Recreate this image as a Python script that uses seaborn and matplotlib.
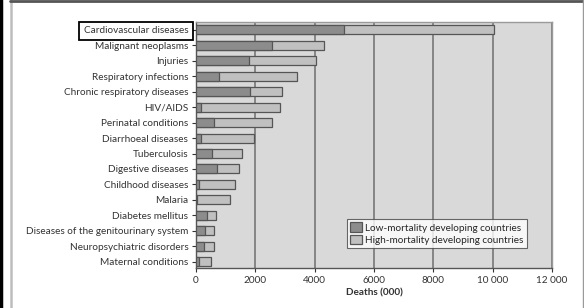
import matplotlib
matplotlib.use("Agg")
import matplotlib.pyplot as plt
from matplotlib.lines import Line2D
import seaborn as sns
import pandas as pd

# causes of death, deaths (000)
causes = ["Cardiovascular diseases", "Malignant neoplasms", "Injuries",
          "Respiratory infections", "Chronic respiratory diseases", "HIV/AIDS",
          "Perinatal conditions", "Diarrhoeal diseases", "Tuberculosis",
          "Digestive diseases", "Childhood diseases", "Malaria",
          "Diabetes mellitus", "Diseases of the genitourinary system",
          "Neuropsychiatric disorders", "Maternal conditions"]
low_mortality = [5000, 2560, 1780, 780, 1810, 160, 590, 180, 540,
                 720, 110, 20, 360, 290, 270, 90]
high_mortality = [5060, 1740, 2270, 2620, 1090, 2670, 1980, 1760, 1020,
                  720, 1210, 1110, 310, 330, 350, 410]

total = [a + b for a, b in zip(low_mortality, high_mortality)]
df = pd.DataFrame({"cause": causes, "low": low_mortality, "total": total})

sns.set_style("white")
plt.rcParams["font.family"] = ["Lato", "DejaVu Sans"]

fig = plt.figure(figsize=(5.84, 3.08), dpi=100)
ax = fig.add_axes([196/584, 1 - 268/308, (552-196)/584, (268-22)/308])
ax.set_facecolor("#d9d9d9")

for x in range(2000, 12001, 2000):
    ax.axvline(x, color="#6e6e6e", lw=1.1, zorder=0)

sns.barplot(data=df, x="total", y="cause", color="#c0c0c0", edgecolor="#555555",
            linewidth=0.9, width=0.58, ax=ax, label="High-mortality developing countries",
            zorder=2)
sns.barplot(data=df, x="low", y="cause", color="#8c8c8c", edgecolor="#555555",
            linewidth=0.9, width=0.58, ax=ax, label="Low-mortality developing countries",
            zorder=3)

ax.set_xlim(0, 12000)
ax.set_ylim(15.4, -0.5)
ax.set_xticks(range(0, 12001, 2000))
ax.set_xticklabels(["0", "2000", "4000", "6000", "8000", "10 000", "12 000"])
ax.tick_params(axis="both", labelsize=7.2, colors="#333333", length=3,
               direction="out", left=True, bottom=True, width=0.8, pad=2.5)
ax.set_ylabel("")
ax.set_xlabel("Deaths (000)", fontsize=7.2, fontweight="bold", color="#333333", labelpad=3)

for side in ["top", "right"]:
    ax.spines[side].set_visible(True)
    ax.spines[side].set_color("#9a9a9a")
    ax.spines[side].set_linewidth(1.0)
for side in ["left", "bottom"]:
    ax.spines[side].set_color("#555555")
    ax.spines[side].set_linewidth(1.0)

# highlighted label
lab = ax.get_yticklabels()[0]
lab.set_bbox(dict(boxstyle="square,pad=0.45", facecolor="white", edgecolor="black", lw=1.3))

handles, labels = ax.get_legend_handles_labels()
leg = ax.legend(handles[::-1], labels[::-1], loc="lower right",
                bbox_to_anchor=(0.93, 0.08), fontsize=7.2, frameon=True,
                fancybox=False, edgecolor="#444444", handlelength=1.2,
                handleheight=1.1, handletextpad=0.3, borderpad=0.35,
                labelspacing=0.2, borderaxespad=0)
leg.get_frame().set_linewidth(0.8)

# outer frame
fig.add_artist(Line2D([0.5/584, 0.5/584], [0, 1], color="black", lw=2.5))
fig.add_artist(Line2D([10.5/584, 10.5/584], [0, 1], color="#bdbdbd", lw=1.8))
fig.add_artist(Line2D([10/584, 1], [1 - 1/308, 1 - 1/308], color="#555555", lw=2))
fig.add_artist(Line2D([582.5/584, 582.5/584], [0, 1], color="#9a9a9a", lw=1))

fig.savefig("out.png", dpi=100)
